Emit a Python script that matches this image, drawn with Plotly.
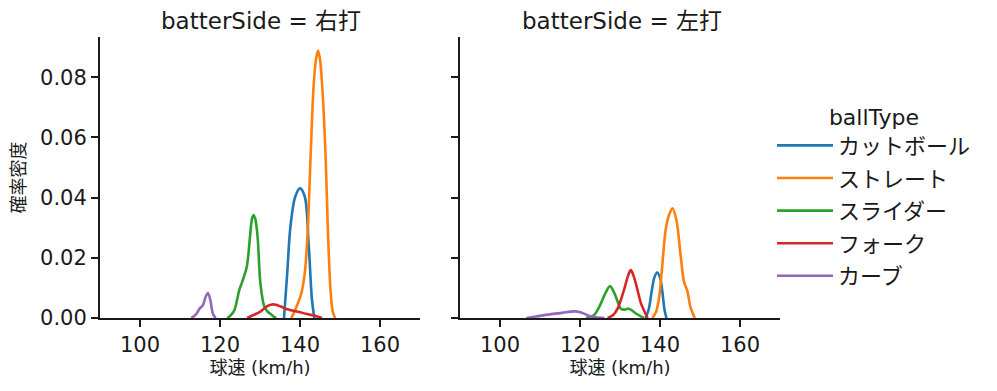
import plotly.graph_objects as go
from plotly.subplots import make_subplots

# ---------------- data ----------------
ball_types = ["カットボール", "ストレート", "スライダー", "フォーク", "カーブ"]
colors = ["#1f77b4", "#ff7f0e", "#2ca02c", "#d62728", "#9467bd"]
panels = ["右打", "左打"]

# 右打 (right-handed batters): speed (km/h) and density
r_cut_x = [136.0, 136.8, 137.6, 138.8, 140.0, 141.2, 142.2, 143.0, 143.6]
r_cut_y = [0.0, 0.0148, 0.0303, 0.0403, 0.0431, 0.0403, 0.0237, 0.0059, 0.0]
r_str_x = [137.8, 138.4, 139.2, 140.3, 141.2, 141.9, 142.6, 143.4, 144.0, 144.5, 145.0, 145.6, 146.4, 147.0, 147.6, 148.2, 148.8]
r_str_y = [0.0, 0.0015, 0.004, 0.008, 0.015, 0.028, 0.052, 0.077, 0.086, 0.0889, 0.086, 0.076, 0.0537, 0.028, 0.010, 0.002, 0.0]
r_sld_x = [121.8, 122.6, 123.6, 124.8, 125.7, 126.7, 127.5, 128.0, 128.4, 128.8, 129.4, 130.1, 131.1, 132.0, 132.7, 133.5, 134.1]
r_sld_y = [0.0, 0.0008, 0.0026, 0.0092, 0.0126, 0.017, 0.027, 0.033, 0.0342, 0.033, 0.027, 0.0115, 0.0037, 0.002, 0.0013, 0.0004, 0.0]
r_frk_x = [126.8, 128.2, 130.2, 131.5, 133.0, 134.0, 135.2, 136.4, 138.0, 139.8, 141.4, 143.5, 145.5]
r_frk_y = [0.0, 0.0009, 0.0022, 0.0037, 0.0045, 0.0044, 0.0038, 0.0031, 0.0025, 0.002, 0.0014, 0.0008, 0.0]
r_crv_x = [112.8, 114.0, 114.9, 115.7, 116.4, 117.0, 117.6, 118.2, 118.9]
r_crv_y = [0.0, 0.0012, 0.0031, 0.0042, 0.007, 0.0083, 0.0059, 0.0015, 0.0]

# 左打 (left-handed batters)
l_cut_x = [136.4, 137.2, 137.9, 138.6, 139.3, 140.0, 140.6, 141.1, 141.6]
l_cut_y = [0.0, 0.003, 0.0087, 0.0135, 0.0151, 0.0135, 0.0087, 0.003, 0.0]
l_str_x = [138.1, 139.0, 139.8, 140.4, 141.4, 142.2, 143.1, 144.1, 145.2, 146.0, 146.8, 147.6, 148.7]
l_str_y = [0.0, 0.002, 0.007, 0.0148, 0.0292, 0.034, 0.0365, 0.0326, 0.0203, 0.012, 0.0092, 0.0037, 0.0]
l_sld_x = [121.5, 123.5, 124.8, 126.3, 127.5, 128.8, 130.2, 131.2, 132.1, 133.0, 134.0, 136.0]
l_sld_y = [0.0, 0.001, 0.0037, 0.0081, 0.0106, 0.0076, 0.0031, 0.0028, 0.0031, 0.0025, 0.0015, 0.0]
l_frk_x = [126.9, 128.3, 129.4, 131.1, 132.0, 132.7, 133.4, 134.4, 135.2, 136.0, 136.9]
l_frk_y = [0.0, 0.001, 0.0031, 0.0098, 0.014, 0.0159, 0.014, 0.0092, 0.005, 0.0025, 0.0]
l_crv_x = [106.6, 109.0, 112.4, 115.5, 118.6, 120.3, 122.4, 124.0, 126.1]
l_crv_y = [0.0, 0.0005, 0.0012, 0.0017, 0.0022, 0.0018, 0.0007, 0.0002, 0.0]

x_ticks = [100, 120, 140, 160]
y_ticks = [0.0, 0.02, 0.04, 0.06, 0.08]
y_tick_labels = ["0.00", "0.02", "0.04", "0.06", "0.08"]

series = {
    "右打": [(r_cut_x, r_cut_y), (r_str_x, r_str_y), (r_sld_x, r_sld_y), (r_frk_x, r_frk_y), (r_crv_x, r_crv_y)],
    "左打": [(l_cut_x, l_cut_y), (l_str_x, l_str_y), (l_sld_x, l_sld_y), (l_frk_x, l_frk_y), (l_crv_x, l_crv_y)],
}

# ---------------- figure ----------------
WIN_W, WIN_H = 997, 391
OFF = 8  # default page body margin
FW, FH = WIN_W - 2 * OFF, WIN_H - 2 * OFF


def px_x(x):
    return (x - OFF) / FW


def px_y(y):
    return 1 - (y - OFF) / FH


FONT = "DejaVu Sans, Noto Sans CJK JP, sans-serif"
INK = "#1a1a1a"

fig = make_subplots(rows=1, cols=2, shared_yaxes=True)

for col, side in enumerate(panels, start=1):
    for i, (bt, (xs, ys)) in enumerate(zip(ball_types, series[side])):
        fig.add_trace(
            go.Scatter(
                x=xs, y=ys, mode="lines", name=bt,
                line=dict(color=colors[i], width=2.6, shape="spline", smoothing=0.9),
                legendgroup=bt, showlegend=(col == 1),
                hoverinfo="skip",
            ),
            row=1, col=col,
        )

axis_common = dict(
    showline=True, linewidth=2, linecolor=INK, mirror=False,
    ticks="outside", ticklen=7, tickwidth=2, tickcolor=INK,
    showgrid=False, zeroline=False, automargin=False,
    tickfont=dict(family=FONT, size=21, color=INK),
)

fig.update_xaxes(**axis_common, range=[90, 170], tickvals=x_ticks,
                 title=dict(text="球速 (km/h)", font=dict(family=FONT, size=18, color=INK), standoff=4))
fig.update_layout(
    xaxis=dict(domain=[px_x(100), px_x(420)]),
    xaxis2=dict(domain=[px_x(460), px_x(780)]),
)
fig.update_yaxes(**axis_common, range=[0, 0.0934], tickvals=y_ticks, ticktext=y_tick_labels,
                 domain=[px_y(318), px_y(37)])
fig.update_yaxes(title=dict(text="確率密度", font=dict(family=FONT, size=18, color=INK), standoff=14), row=1, col=1)
fig.update_yaxes(showticklabels=False, row=1, col=2)

annotations = []
for side, xc in zip(panels, [261, 622]):
    annotations.append(dict(
        text=f"batterSide = {side}", x=px_x(xc), y=px_y(21), xref="paper", yref="paper",
        xanchor="center", yanchor="middle", showarrow=False,
        font=dict(family=FONT, size=23, color=INK),
    ))

fig.update_layout(
    width=FW, height=FH,
    margin=dict(l=0, r=0, t=0, b=0, autoexpand=False),
    paper_bgcolor="white", plot_bgcolor="white",
    annotations=annotations,
    showlegend=True,
    legend=dict(
        x=px_x(772), y=px_y(96), xanchor="left", yanchor="top",
        bgcolor="rgba(0,0,0,0)", borderwidth=0,
        font=dict(family=FONT, size=22, color=INK),
        title=dict(text="ballType", side="top center", font=dict(family=FONT, size=22, color=INK)),
        tracegroupgap=1, traceorder="grouped", itemwidth=56,
    ),
)

fig.write_html("out.html")
